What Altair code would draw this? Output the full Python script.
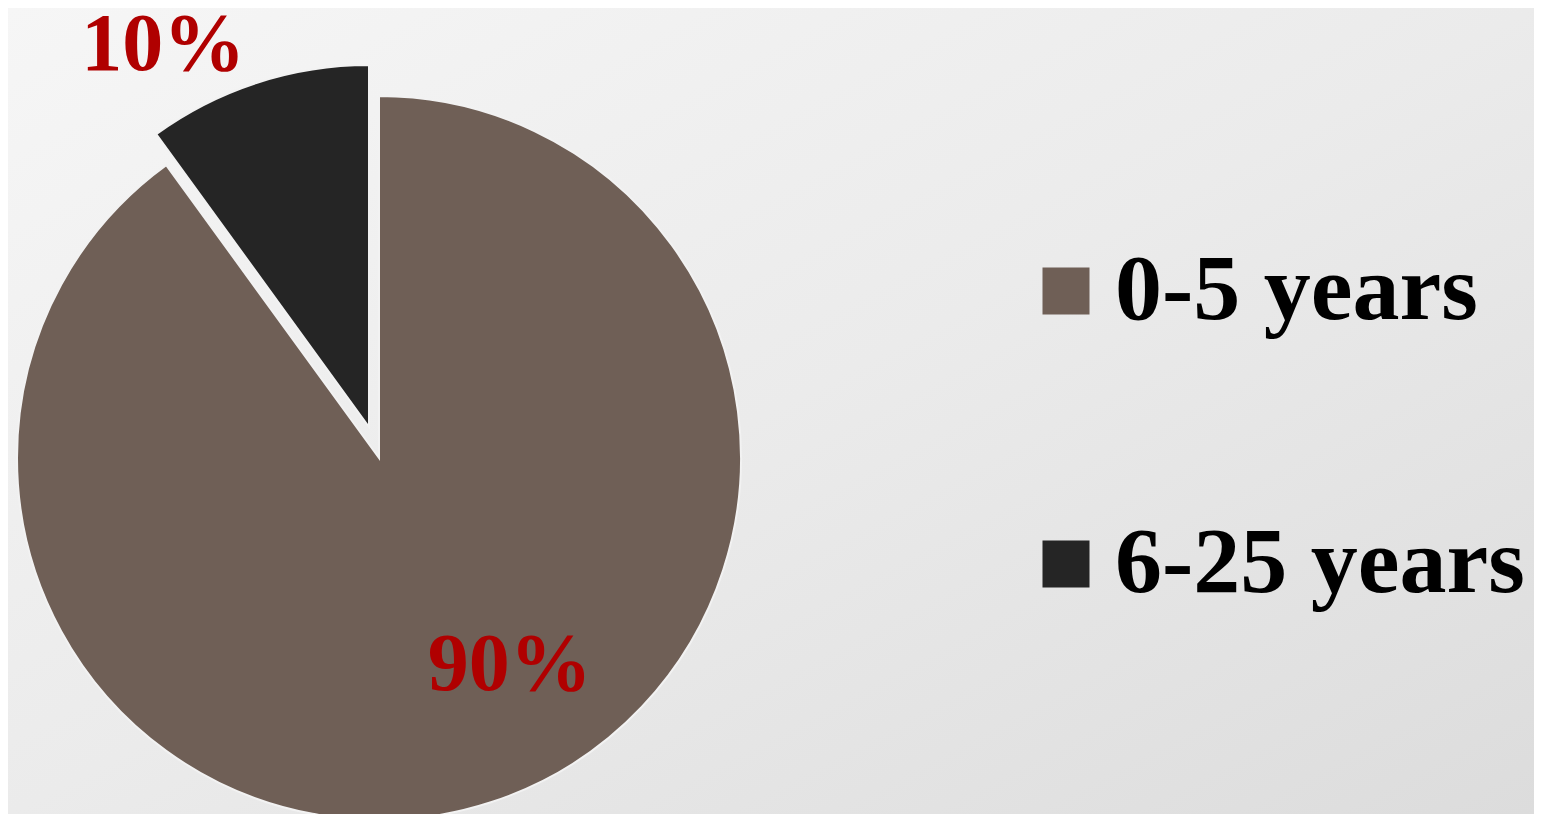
import math
import altair as alt
import pandas as pd

categories = ["0-5 years", "6-25 years"]
shares = [90, 10]
labels = ["90%", "10%"]
order = [1, 2]

df = pd.DataFrame({"category": categories, "share": shares, "label": labels, "order": order})

W, H = 1526, 806
CX, CY, R = 371, 450, 362
EX, EY = -10, -31
colors = ["#6f5f56", "#252525"]
label_color = "#b00000"
serif = "Liberation Serif, Times New Roman, Times, serif"

theta_scale = alt.Scale(domain=[0, 100], range=[0, 2 * math.pi])
color = alt.Color(
    "category:N",
    scale=alt.Scale(domain=categories, range=colors),
    legend=alt.Legend(
        title=None,
        orient="none",
        legendX=1011,
        legendY=236,
        direction="vertical",
        symbolType="square",
        symbolSize=2209,
        symbolStrokeWidth=0,
        symbolOpacity=1,
        labelFont=serif,
        labelFontWeight="bold",
        labelFontSize=94,
        labelColor="#000000",
        labelOffset=2,
        labelLimit=600,
        rowPadding=179,
        padding=0,
    ),
)

bg = alt.Chart(pd.DataFrame({"bg": [0]})).mark_rect(
    fill=alt.LinearGradient(
        gradient="linear", x1=0, y1=0, x2=1, y2=1,
        stops=[alt.GradientStop(offset=0, color="#f6f6f6"),
               alt.GradientStop(offset=0.5, color="#ebebeb"),
               alt.GradientStop(offset=1, color="#dcdcdc")],
    )
).encode(x=alt.value(0), x2=alt.value(W), y=alt.value(0), y2=alt.value(H))

base = alt.Chart(df).transform_window(
    cum="sum(share)", sort=[alt.SortField("order")], frame=[None, 0]
).transform_calculate(
    start="datum.cum - datum.share", mid="datum.cum - datum.share / 2"
)

main_arc = base.transform_filter(alt.datum.category == categories[0]).mark_arc(
    outerRadius=R, stroke="#f2f2f2", strokeWidth=2
).encode(
    theta=alt.Theta("start:Q", scale=theta_scale, stack=None),
    theta2="cum:Q",
    color=color,
    x=alt.value(CX),
    y=alt.value(CY),
)

explode_arc = base.transform_filter(alt.datum.category == categories[1]).mark_arc(
    outerRadius=R, stroke="#f2f2f2", strokeWidth=2
).encode(
    theta=alt.Theta("start:Q", scale=theta_scale, stack=None),
    theta2="cum:Q",
    color=color,
    x=alt.value(CX + EX),
    y=alt.value(CY + EY),
)

text_props = dict(font=serif, fontWeight="bold", fontSize=82, color=label_color,
                  baseline="alphabetic", align="center")

label_big = base.transform_filter(alt.datum.category == categories[0]).mark_text(
    radius=242, dx=56, dy=2, **text_props
).encode(
    theta=alt.Theta("mid:Q", scale=theta_scale, stack=None),
    text="label:N",
    x=alt.value(CX),
    y=alt.value(CY),
)

label_small = base.transform_filter(alt.datum.category == categories[1]).mark_text(
    radius=420, dx=-86, dy=11, **text_props
).encode(
    theta=alt.Theta("mid:Q", scale=theta_scale, stack=None),
    text="label:N",
    x=alt.value(CX),
    y=alt.value(CY),
)

chart = alt.layer(bg, main_arc, explode_arc, label_big, label_small).properties(
    width=W, height=H, background="#eeeeee", padding=0,
    autosize=alt.AutoSizeParams(type="none"),
).configure_view(stroke=None)

chart.save("out.html", embed_options={"renderer": "svg", "actions": False})
